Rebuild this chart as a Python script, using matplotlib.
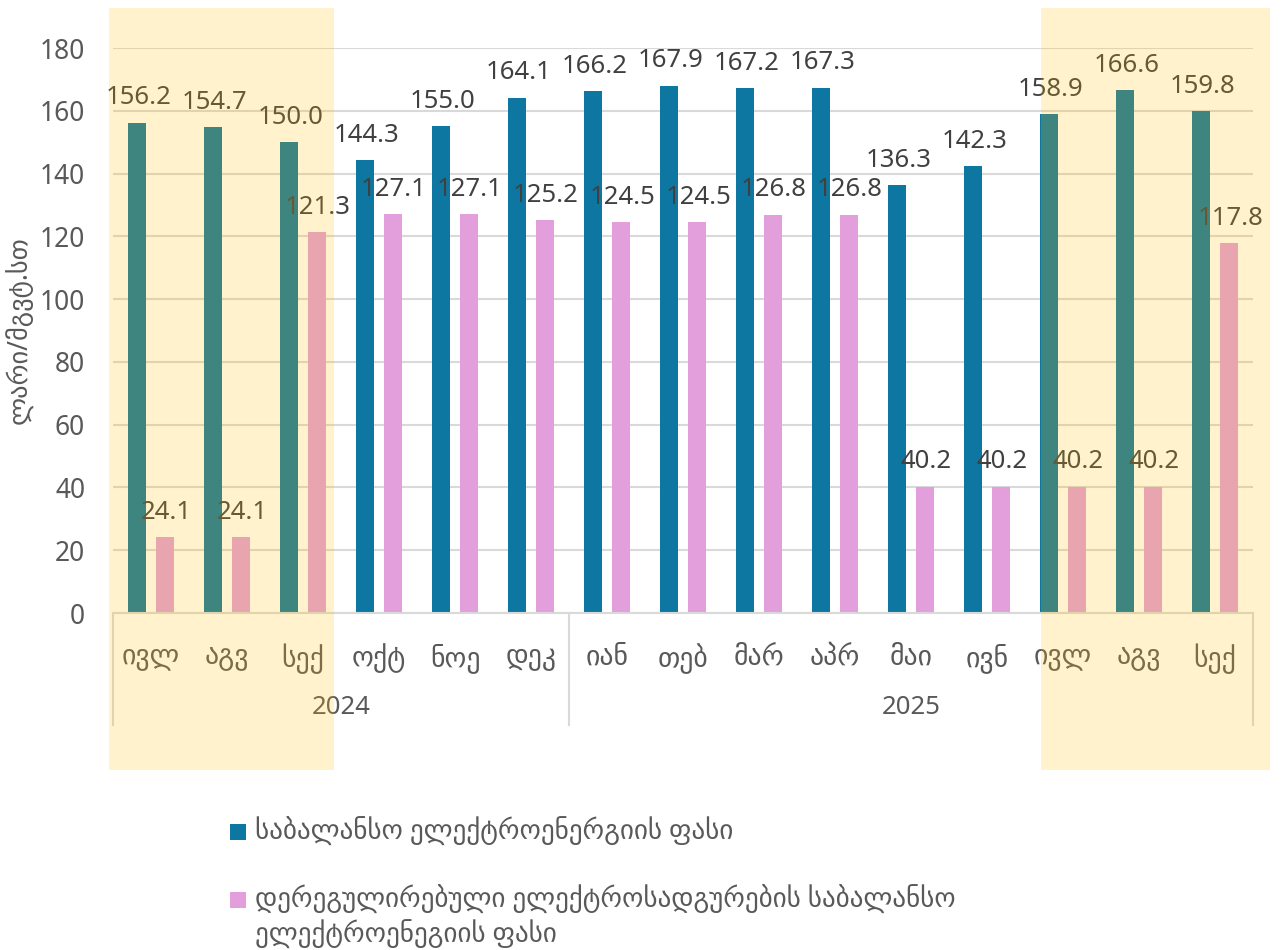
import matplotlib
matplotlib.use("Agg")
import matplotlib.pyplot as plt
import matplotlib.transforms as mtransforms
from matplotlib.patches import Rectangle

plt.rcParams['font.family'] = ['Noto Sans', 'DejaVu Sans']

# data
months = ["ივლ", "აგვ", "სექ", "ოქტ", "ნოე", "დეკ",
          "იან", "თებ", "მარ", "აპრ", "მაი", "ივნ", "ივლ", "აგვ", "სექ"]
years = ["2024", "2025"]
year_span = [(0, 5), (6, 14)]
balance_price = [156.2, 154.7, 150.0, 144.3, 155.0, 164.1, 166.2, 167.9,
                 167.2, 167.3, 136.3, 142.3, 158.9, 166.6, 159.8]
dereg_price = [24.1, 24.1, 121.3, 127.1, 127.1, 125.2, 124.5, 124.5,
               126.8, 126.8, 40.2, 40.2, 40.2, 40.2, 117.8]
series_names = ["საბალანსო ელექტროენერგიის ფასი",
                "დერეგულირებული ელექტროსადგურების საბალანსო\nელექტროენეგიის ფასი"]
y_title = "ლარი/მგვტ.სთ"
highlight_ranges = [(-0.55, 2.41), (11.71, 14.72)]

BLUE = "#0E77A1"
PINK = "#E39FDC"
GRID = "#D9D9D9"
TXT = "#595959"
LBL = "#404040"

W, H = 1283, 950
fig = plt.figure(figsize=(W / 100, H / 100), dpi=100)
ax = fig.add_axes([113 / W, (H - 613) / H, 1140 / W, 565 / H])

x = list(range(len(months)))
bw = 0.24
off = 0.18
b1 = ax.bar([i - off for i in x], balance_price, width=bw, color=BLUE, zorder=2)
b2 = ax.bar([i + off for i in x], dereg_price, width=bw, color=PINK, zorder=2)

for bars, vals in ((b1, balance_price), (b2, dereg_price)):
    for r, v in zip(bars, vals):
        ax.annotate(f"{v:.1f}", (r.get_x() + r.get_width() / 2, v),
                    xytext=(1, 9), textcoords="offset points",
                    ha="center", va="bottom", fontsize=18.5, color=LBL, zorder=3)

ax.set_xlim(-0.5, len(months) - 0.5)
ax.set_ylim(0, 180)
ax.set_yticks(range(0, 181, 20))
ax.yaxis.grid(True, color=GRID, linewidth=1.5, zorder=0)
ax.set_axisbelow(True)
for s in ["top", "right", "left"]:
    ax.spines[s].set_visible(False)
ax.spines["bottom"].set_color(GRID)
ax.spines["bottom"].set_linewidth(1.5)
ax.tick_params(axis="y", length=0, pad=20, labelsize=19, labelcolor=TXT)
ax.set_xticks(x)
ax.set_xticklabels(months)
ax.tick_params(axis="x", length=0, pad=22, labelsize=20, labelcolor=TXT)

ax.set_ylabel(y_title, fontsize=19, color=TXT)
ax.yaxis.set_label_coords(-0.069, 0.5)

# year grouping
for sep in (-0.5, 5.5, len(months) - 0.5):
    ax.axvline(sep, ymin=-0.198, ymax=0, color=GRID, linewidth=1.5, clip_on=False)
for yr, (a, b) in zip(years, year_span):
    ax.text((a + b) / 2, -0.168, yr, transform=ax.get_xaxis_transform(),
            ha="center", va="center", fontsize=18.5, color=TXT)

# highlight overlay
blend = mtransforms.blended_transform_factory(ax.transData, fig.transFigure)
for x0, x1 in highlight_ranges:
    fig.add_artist(Rectangle((x0, 180 / H), x1 - x0, (H - 8 - 180) / H,
                             transform=blend, facecolor="#FFC000", alpha=0.2,
                             edgecolor="none", zorder=10))

# legend
for (ypx, col), name in zip(((832, BLUE), (900, PINK)), series_names):
    fig.add_artist(Rectangle((230 / W, (H - ypx - 8) / H), 16 / W, 16 / H,
                             transform=fig.transFigure, facecolor=col,
                             edgecolor="none"))
    for k, line in enumerate(name.split("\n")):
        fig.text(255 / W, (H - ypx - 35 * k) / H, line, ha="left",
                 va="center", fontsize=19.5, color=TXT)

fig.savefig("out.png", dpi=100)
